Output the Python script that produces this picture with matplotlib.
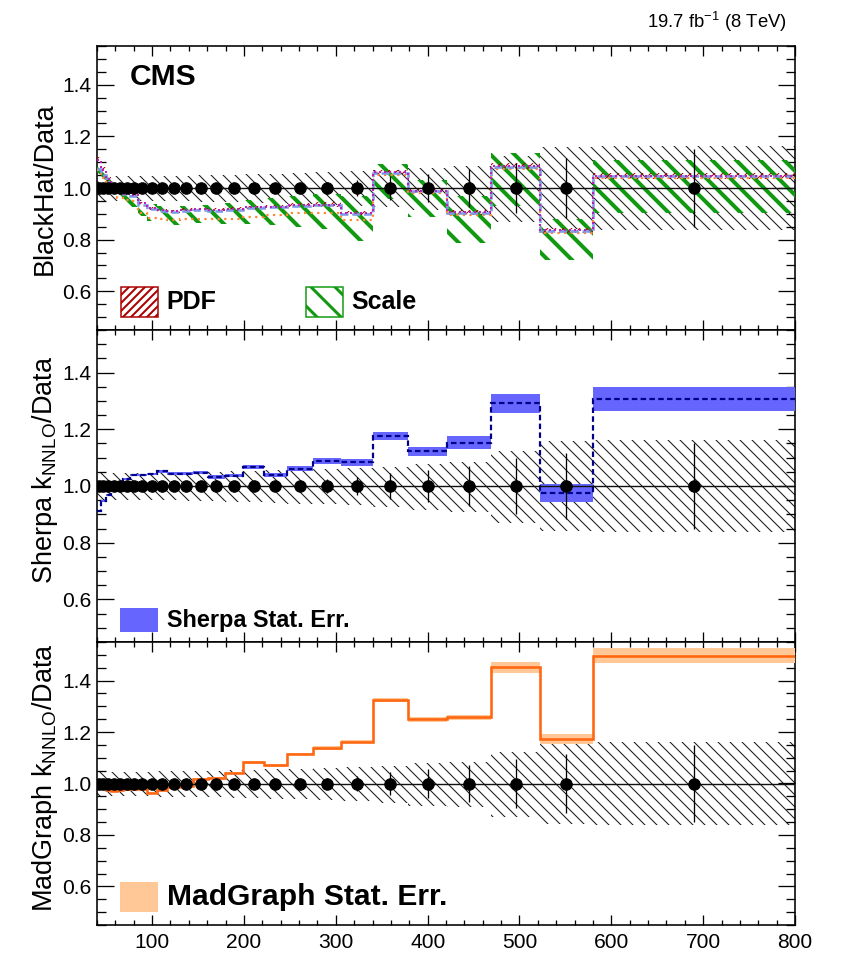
import numpy as np
import matplotlib
matplotlib.use('Agg')
import matplotlib.pyplot as plt
from matplotlib.patches import Rectangle
from matplotlib.ticker import MultipleLocator, FormatStrFormatter

plt.rcParams['font.family'] = ['Liberation Sans', 'DejaVu Sans']
plt.rcParams['mathtext.fontset'] = 'custom'
plt.rcParams['mathtext.rm'] = 'Liberation Sans'
plt.rcParams['mathtext.it'] = 'Liberation Sans:italic'
plt.rcParams['mathtext.bf'] = 'Liberation Sans:bold'

# boson pT binning (GeV)
bin_edges = [40, 44.5, 49.6, 55.2, 61.4, 68.3, 76.0, 84.6, 94.2, 104.8, 116.7,
             129.9, 144.5, 160.9, 179.0, 199.3, 221.8, 246.8, 274.7, 305.8,
             340.3, 378.8, 421.6, 469.2, 522.3, 580.0, 800.0]

# data (ratio to itself) with stat. errors and total uncertainty band
data_ratio = [1.0] * 26
data_stat = [0.004, 0.004, 0.004, 0.005, 0.005, 0.005, 0.006, 0.006, 0.007,
             0.007, 0.008, 0.009, 0.010, 0.011, 0.012, 0.014, 0.016, 0.019,
             0.023, 0.030, 0.045, 0.055, 0.072, 0.097, 0.115, 0.150]
band_up = [0.046, 0.045, 0.045, 0.045, 0.045, 0.045, 0.046, 0.046, 0.046,
           0.047, 0.047, 0.048, 0.049, 0.050, 0.052, 0.054, 0.056, 0.058,
           0.061, 0.064, 0.068, 0.079, 0.085, 0.124, 0.157, 0.161]
band_dn = [0.050, 0.049, 0.049, 0.049, 0.049, 0.049, 0.050, 0.050, 0.050,
           0.051, 0.051, 0.052, 0.053, 0.054, 0.056, 0.058, 0.060, 0.062,
           0.065, 0.068, 0.075, 0.086, 0.092, 0.131, 0.158, 0.162]

# BlackHat
bh_nom = [1.075, 1.050, 1.025, 1.003, 0.985, 0.975, 0.968, 0.935, 0.918,
          0.910, 0.906, 0.912, 0.914, 0.912, 0.915, 0.922, 0.925, 0.930,
          0.933, 0.900, 1.058, 0.987, 0.903, 1.080, 0.832, 1.045]
bh_alt = [1.110, 1.070, 1.035, 1.010, 0.990, 0.978, 0.972, 0.940, 0.922,
          0.914, 0.910, 0.916, 0.918, 0.916, 0.918, 0.925, 0.928, 0.934,
          0.936, 0.903, 1.062, 0.990, 0.906, 1.085, 0.836, 1.048]
bh_orange = [1.070, 1.040, 1.010, 0.985, 0.962, 0.955, 0.950, 0.905, 0.885,
             0.878, 0.876, 0.878, 0.878, 0.878, 0.880, 0.888, 0.895, 0.905,
             0.905, 0.877, 1.050, 0.980, 0.895, 1.075, 0.826, 1.040]
pdf_err = [0.012, 0.010, 0.008, 0.007, 0.006, 0.006, 0.006, 0.006, 0.006,
           0.006, 0.006, 0.006, 0.006, 0.006, 0.007, 0.007, 0.007, 0.008,
           0.008, 0.008, 0.009, 0.009, 0.010, 0.010, 0.011, 0.012]
scale_up = [0.030, 0.025, 0.020, 0.020, 0.020, 0.020, 0.020, 0.020, 0.020,
            0.020, 0.020, 0.020, 0.022, 0.024, 0.026, 0.030, 0.035, 0.040,
            0.045, 0.070, 0.035, 0.045, 0.065, 0.055, 0.046, 0.064]
scale_dn = [0.020, 0.020, 0.025, 0.030, 0.035, 0.040, 0.040, 0.045, 0.045,
            0.045, 0.048, 0.050, 0.050, 0.052, 0.055, 0.060, 0.070, 0.080,
            0.090, 0.105, 0.100, 0.100, 0.115, 0.150, 0.110, 0.142]

# Sherpa
sherpa = [0.912, 0.948, 0.968, 0.985, 1.002, 1.024, 1.038, 1.040, 1.042,
          1.052, 1.044, 1.044, 1.047, 1.032, 1.037, 1.067, 1.038, 1.061,
          1.087, 1.083, 1.176, 1.122, 1.153, 1.291, 0.976, 1.307]
sherpa_err = [0.004, 0.004, 0.004, 0.004, 0.004, 0.004, 0.004, 0.004, 0.004,
              0.005, 0.005, 0.005, 0.006, 0.006, 0.007, 0.007, 0.008, 0.009,
              0.010, 0.011, 0.015, 0.016, 0.023, 0.035, 0.032, 0.043]

# MadGraph
madgraph = [0.990, 0.985, 0.975, 0.972, 0.976, 0.980, 0.978, 0.977, 0.963,
            0.975, 0.986, 0.990, 1.017, 1.020, 1.039, 1.082, 1.071, 1.114,
            1.138, 1.162, 1.324, 1.249, 1.257, 1.452, 1.172, 1.496]
madgraph_err = [0.003, 0.003, 0.003, 0.003, 0.003, 0.003, 0.003, 0.003, 0.003,
                0.003, 0.003, 0.004, 0.004, 0.004, 0.004, 0.005, 0.005, 0.005,
                0.006, 0.006, 0.008, 0.010, 0.010, 0.021, 0.020, 0.029]

centers = [(a + b) / 2 for a, b in zip(bin_edges[:-1], bin_edges[1:])]

DPI = 72
W, H = 844, 958
fig = plt.figure(figsize=(W / DPI, H / DPI), dpi=DPI)


def make_axes(top, bottom):
    # pixel box -> figure fraction
    ax = fig.add_axes([97 / W, 1 - bottom / H, 698 / W, (bottom - top) / H])
    ax.set_xlim(40, 800)
    ax.set_ylim(0.45, 1.55)
    ax.xaxis.set_major_locator(MultipleLocator(100))
    ax.xaxis.set_minor_locator(MultipleLocator(20))
    ax.yaxis.set_major_locator(MultipleLocator(0.2))
    ax.yaxis.set_minor_locator(MultipleLocator(0.05))
    ax.yaxis.set_major_formatter(FormatStrFormatter('%.1f'))
    ax.tick_params(which='both', direction='in', top=True, right=True,
                   width=1.3, labelsize=21)
    ax.tick_params(axis='x', which='major', length=10)
    ax.tick_params(axis='x', which='minor', length=5)
    ax.tick_params(axis='y', which='major', length=17, pad=6)
    ax.tick_params(axis='y', which='minor', length=9)
    for s in ax.spines.values():
        s.set_linewidth(1.6)
    return ax


def hatched(ax, lo, hi, color, hatch, lw, zorder=2):
    with plt.rc_context({'hatch.linewidth': lw}):
        p = ax.stairs(hi, bin_edges, baseline=lo, fill=True, facecolor='none',
                      edgecolor=color, linewidth=0, hatch=hatch, zorder=zorder)
    if hasattr(p, 'set_hatch_linewidth'):
        p.set_hatch_linewidth(lw)
    return p


def draw_data(ax):
    one = np.array(data_ratio)
    hatched(ax, one - np.array(band_dn), one + np.array(band_up),
            '#1a1a1a', '\\\\', 1.05, zorder=1)
    ax.axhline(1.0, color='#111111', lw=1.4, zorder=6)
    ax.errorbar(centers, data_ratio, yerr=data_stat, fmt='o', color='k',
                ms=11.5, elinewidth=1.3, capsize=0, zorder=7)


def legend_box(ax, x, y, w, h, text, size, **kw):
    with plt.rc_context({'hatch.linewidth': kw.pop('hlw', 1.0)}):
        r = Rectangle((x, y), w, h, transform=ax.transAxes, **kw)
    ax.add_patch(r)
    ax.text(x + w + 0.012, y + h / 2, text, transform=ax.transAxes,
            fontsize=size, fontweight='bold', va='center', ha='left')
    return r


# BlackHat panel
ax1 = make_axes(46, 330)
draw_data(ax1)
nom = np.array(bh_nom)
hatched(ax1, nom - np.array(scale_dn), nom + np.array(scale_up),
        '#119911', '\\', 4.0, zorder=3)
alt = np.array(bh_alt)
hatched(ax1, alt - np.array(pdf_err), alt + np.array(pdf_err),
        '#aa0000', '///', 1.0, zorder=4)
ax1.stairs(bh_orange, bin_edges, baseline=None, color='#ff8833', lw=2.2,
           linestyle=(0, (1, 2)), zorder=4)
ax1.stairs(bh_nom, bin_edges, baseline=None, color='#7f99e6', lw=2.6,
           linestyle=(0, (3, 1.5)), zorder=4)
ax1.stairs(bh_alt, bin_edges, baseline=None, color='#bb22bb', lw=2.0,
           linestyle=(0, (1, 1.5)), zorder=5)
ax1.tick_params(labelbottom=False)
ax1.text(0.047, 0.8627, 'CMS', transform=ax1.transAxes, fontsize=30,
         fontweight='bold', va='baseline')
legend_box(ax1, 0.034, 0.047, 0.054, 0.106, 'PDF', 25, facecolor='none',
           edgecolor='#aa0000', hatch='///', lw=1.5, hlw=2.0)
legend_box(ax1, 0.300, 0.047, 0.052, 0.106, 'Scale', 25, facecolor='none',
           edgecolor='#119911', hatch='\\', lw=1.5, hlw=3.0)

# Sherpa panel
ax2 = make_axes(330, 642)
draw_data(ax2)
sh = np.array(sherpa)
she = np.array(sherpa_err)
ax2.stairs(sh + she, bin_edges, baseline=sh - she, fill=True,
           color='#6666ff', lw=0, zorder=3)
ax2.stairs(sherpa, bin_edges, baseline=None, color='#000088', lw=2.2,
           linestyle=(0, (2.5, 1.5)), zorder=4)
ax2.tick_params(labelbottom=False)
legend_box(ax2, 0.033, 0.032, 0.055, 0.077, 'Sherpa Stat. Err.', 23.5,
           facecolor='#6666ff', edgecolor='none')

# MadGraph panel
ax3 = make_axes(642, 925)
draw_data(ax3)
mg = np.array(madgraph)
mge = np.array(madgraph_err)
ax3.stairs(mg + mge, bin_edges, baseline=mg - mge, fill=True,
           color='#ffc896', lw=0, zorder=3)
ax3.stairs(madgraph, bin_edges, baseline=None, color='#ff6611', lw=2.6,
           zorder=4)
ax3.tick_params(axis='x', labelsize=21, pad=8)
legend_box(ax3, 0.033, 0.047, 0.055, 0.104, 'MadGraph Stat. Err.', 30,
           facecolor='#ffc896', edgecolor='none')

# axis titles
fig.text(45 / W, 1 - 189 / H, 'BlackHat/Data', rotation=90, fontsize=27,
         ha='center', va='center')
fig.text(45 / W, 1 - 470 / H, r'Sherpa k$_{\mathrm{NNLO}}$/Data',
         rotation=90, fontsize=27, ha='center', va='center')
fig.text(45 / W, 1 - 778 / H, r'MadGraph k$_{\mathrm{NNLO}}$/Data',
         rotation=90, fontsize=27, ha='center', va='center')

fig.text(787 / W, 1 - 28 / H, r'19.7 fb$^{-1}$ (8 TeV)', fontsize=18.5,
         ha='right', va='baseline')

fig.savefig('out.png', dpi=DPI)
